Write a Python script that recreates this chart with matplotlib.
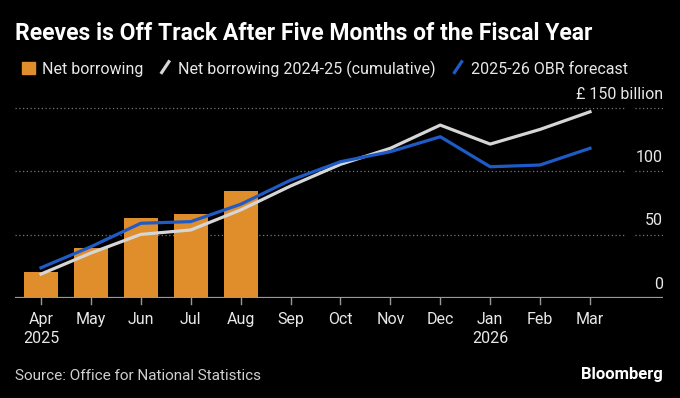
import numpy as np
import matplotlib
matplotlib.use("Agg")
import matplotlib.pyplot as plt
from matplotlib.lines import Line2D
from matplotlib.patches import Patch
from matplotlib.legend_handler import HandlerBase

months = ["Apr", "May", "Jun", "Jul", "Aug", "Sep", "Oct", "Nov", "Dec", "Jan", "Feb", "Mar"]
years = {0: "2025", 9: "2026"}
net_borrowing = [20.8, 39.2, 63.4, 66.0, 84.2]
prior_year = [18.9, 35.5, 50.2, 53.7, 69.5, 88.4, 105.5, 118.2, 136.5, 121.5, 133.1, 147.0]
obr_forecast = [23.9, 40.5, 59.0, 60.3, 74.0, 93.0, 107.6, 115.5, 127.3, 103.6, 105.0, 118.2]
yticks = [0, 50, 100, 150]

BG = "#000000"; FG = "#e8e8e8"
ORANGE = "#e08e2b"; BLUE = "#1f5bc6"; GREY = "#d6d6d6"
plt.rcParams.update({"font.family": ["Roboto", "DejaVu Sans"],
                     "figure.facecolor": BG, "text.color": FG})


class Slash(HandlerBase):
    # legend key drawn as a short diagonal stroke
    def create_artists(self, legend, orig, xd, yd, w, h, fs, trans):
        ln = Line2D([xd + 0.15 * w, xd + 0.85 * w], [yd - 0.05 * h, yd + 1.05 * h],
                    color=orig.get_color(), lw=orig.get_linewidth(),
                    solid_capstyle="butt", transform=trans)
        return [ln]


W, H = 680, 398
fig = plt.figure(figsize=(W / 100, H / 100), dpi=100)
# axes from x=15..663 px, y=100..298 px
ax = fig.add_axes([15 / W, (H - 298) / H, 648 / W, 198 / H])
ax.set_facecolor(BG)
x0 = -26 / 49.9
x1 = 11 + 73 / 49.9
ax.set_xlim(x0, x1)
ax.set_ylim(0, 198 / 1.2667)
for s in ax.spines.values():
    s.set_visible(False)
ax.set_yticks([])
ax.set_xticks([])

x = np.arange(len(months))
for v in yticks[1:]:
    ax.plot([x0, 11 + 34 / 49.9], [v, v], color="#777777", lw=0.9, ls=(0, (1, 2)))
    ax.plot([11 + 45 / 49.9, x1], [v, v], color="#777777", lw=0.9, ls=(0, (1, 2)))
    lab = "£ 150 billion" if v == 150 else str(v)
    ax.text(x1, v + 11, lab, ha="right", va="center", fontsize=11.5, color=FG)
ax.text(x1, 11, "0", ha="right", va="center", fontsize=11.5, color=FG)

ax.bar(x[:len(net_borrowing)], net_borrowing, width=0.68, color=ORANGE, zorder=2)
ax.plot(x, prior_year, color=GREY, lw=2.3, zorder=3)
ax.plot(x, obr_forecast, color=BLUE, lw=2.3, zorder=4)
ax.axhline(0, color="#9a9a9a", lw=1.6, zorder=5)

for i, m in enumerate(months):
    ax.plot([i, i], [0, -5], color="#9a9a9a", lw=1, clip_on=False)
    lab = m + ("\n" + years[i] if i in years else "")
    ax.text(i, -11, lab, ha="center", va="top", fontsize=11.5, color=FG,
            linespacing=1.3)

fig.text(15 / W, 1 - 34 / H, "Reeves is Off Track After Five Months of the Fiscal Year",
         fontsize=16.5, fontweight="bold", color="white", va="center")

grey_h = Line2D([], [], color=GREY, lw=2.3)
blue_h = Line2D([], [], color=BLUE, lw=2.3)
handles = [Patch(color=ORANGE), grey_h, blue_h]
labels = ["Net borrowing", "Net borrowing 2024-25 (cumulative)", "2025-26 OBR forecast"]
fig.legend(handles, labels, loc="center left", bbox_to_anchor=(8 / W, 1 - 69 / H),
           ncol=3, frameon=False, fontsize=11.5, handlelength=0.8, handleheight=0.8,
           handletextpad=0.4, columnspacing=1.0, labelcolor=FG,
           handler_map={grey_h: Slash(), blue_h: Slash()})

fig.text(15 / W, 1 - 376 / H, "Source: Office for National Statistics",
         fontsize=11, color="#cfcfcf", va="center")
fig.text(663 / W, 1 - 374 / H, "Bloomberg", fontsize=12, fontweight="bold",
         color="white", va="center", ha="right")

fig.savefig("out.png", dpi=100, facecolor=BG)
